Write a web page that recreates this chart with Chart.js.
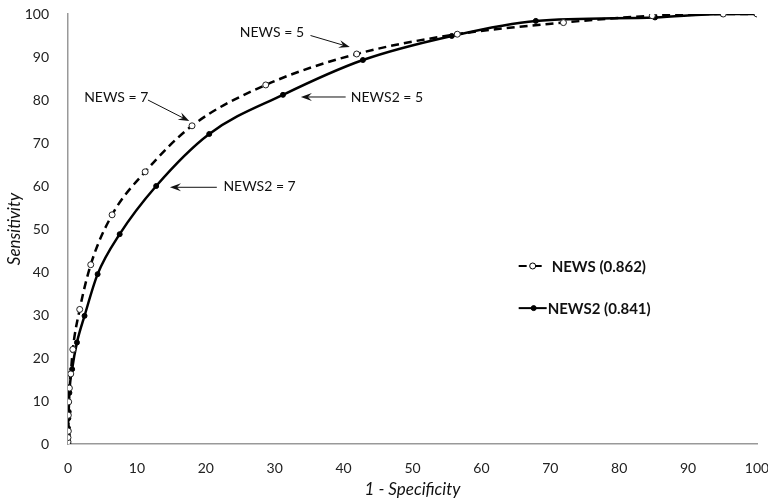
<!DOCTYPE html>
<html>
<head>
<meta charset="utf-8">
<script src="https://cdn.jsdelivr.net/npm/chart.js@4"></script>
<style>
  html, body { margin: 0; padding: 0; background: #fff; }
  #wrap { width: 768px; height: 502px; }
</style>
</head>
<body>
<div id="wrap"><canvas id="roc"></canvas></div>
<script>
// 1 - specificity (%) and sensitivity (%)
const newsFpr = [0, 0, 0, 0.05, 0.05, 0.1, 0.2, 0.4, 0.7, 1.7, 3.3, 6.4, 11.2, 18, 28.7, 41.9, 56.5, 71.9, 84.8, 95.1, 100];
const newsSens = [0, 0.5, 1.5, 3, 6.7, 9.8, 13, 16.3, 22, 31.3, 41.7, 53.3, 63.3, 74, 83.5, 90.7, 95.3, 98, 99.6, 100, 100];
const news2Fpr = [0, 0, 0, 0, 0.05, 0.1, 0.2, 0.6, 1.3, 2.4, 4.3, 7.5, 12.8, 20.5, 31.2, 42.8, 55.7, 67.9, 85.2, 95, 100];
const news2Sens = [0, 0.8, 2, 3.7, 6, 7.5, 11.9, 17.4, 23.6, 29.8, 39.5, 48.8, 60, 72.1, 81.2, 89.3, 94.9, 98.4, 99.2, 100, 100];

const seriesNames = ["NEWS (0.862)", "NEWS2 (0.841)"];
const axisTicks = [0, 10, 20, 30, 40, 50, 60, 70, 80, 90, 100];

// callouts: label, label anchor, arrow start, arrow tip (data units)
const callouts = [
  { text: "NEWS = 5",  at: [29.6, 95.8], from: [35.2, 95.0], to: [40.9, 92.3] },
  { text: "NEWS = 7",  at: [7.0, 80.5],  from: [11.6, 80.0], to: [17.6, 75.1] },
  { text: "NEWS2 = 5", at: [46.3, 80.7], from: [40.3, 80.7], to: [33.8, 80.7] },
  { text: "NEWS2 = 7", at: [27.8, 60.0], from: [21.6, 59.7], to: [14.8, 59.7] }
];

const toPoints = (xs, ys) => xs.map((x, i) => ({ x: x, y: ys[i] }));
const FONT = "Lato, 'Open Sans', sans-serif";

function arrow(ctx, x1, y1, x2, y2) {
  const a = Math.atan2(y2 - y1, x2 - x1);
  const len = 11, half = 4;
  ctx.beginPath();
  ctx.moveTo(x1, y1);
  ctx.lineTo(x2 - Math.cos(a) * 6, y2 - Math.sin(a) * 6);
  ctx.stroke();
  ctx.beginPath();
  ctx.moveTo(x2, y2);
  ctx.lineTo(x2 - Math.cos(a) * len - Math.sin(a) * half, y2 - Math.sin(a) * len + Math.cos(a) * half);
  ctx.lineTo(x2 - Math.cos(a) * 7, y2 - Math.sin(a) * 7);
  ctx.lineTo(x2 - Math.cos(a) * len + Math.sin(a) * half, y2 - Math.sin(a) * len - Math.cos(a) * half);
  ctx.closePath();
  ctx.fill();
}

const extras = {
  id: "extras",
  afterDraw(chart) {
    const { ctx, scales: { x, y } } = chart;
    ctx.save();
    ctx.fillStyle = "#111";
    ctx.strokeStyle = "#111";
    ctx.lineWidth = 1;
    ctx.font = "14px " + FONT;
    ctx.textAlign = "center";
    ctx.textBaseline = "middle";
    callouts.forEach(c => {
      ctx.fillText(c.text, x.getPixelForValue(c.at[0]), y.getPixelForValue(c.at[1]));
      arrow(ctx, x.getPixelForValue(c.from[0]), y.getPixelForValue(c.from[1]),
        x.getPixelForValue(c.to[0]), y.getPixelForValue(c.to[1]));
    });

    // legend inside the plot
    const lx = x.getPixelForValue(70.2);
    const rows = [y.getPixelForValue(41.4), y.getPixelForValue(31.6)];
    ctx.font = "bold 15px " + FONT;
    ctx.textAlign = "left";
    chart.data.datasets.forEach((ds, i) => {
      const yy = rows[i];
      const x0 = lx - 33;
      ctx.lineWidth = 2;
      ctx.strokeStyle = "#000";
      ctx.beginPath();
      if (i === 0) {
        ctx.moveTo(x0, yy); ctx.lineTo(x0 + 8, yy);
        ctx.moveTo(x0 + 17, yy); ctx.lineTo(x0 + 23, yy);
      } else {
        ctx.moveTo(x0, yy); ctx.lineTo(x0 + 28, yy);
      }
      ctx.stroke();
      ctx.beginPath();
      ctx.arc(x0 + (i === 0 ? 14 : 15), yy, i === 0 ? 3 : 2.5, 0, Math.PI * 2);
      ctx.fillStyle = ds.pointBackgroundColor;
      ctx.fill();
      ctx.lineWidth = 1;
      ctx.stroke();
      ctx.fillStyle = "#111";
      ctx.fillText(seriesNames[i], i === 0 ? x0 + 33 : x0 + 29, yy + 1);
    });
    ctx.restore();
  }
};

new Chart(document.getElementById("roc"), {
  type: "scatter",
  data: {
    datasets: [
      {
        label: seriesNames[0],
        data: toPoints(newsFpr, newsSens),
        showLine: true,
        borderColor: "#000",
        borderWidth: 2.5,
        borderDash: [8, 5],
        cubicInterpolationMode: "monotone",
        pointRadius: 3,
        pointBorderWidth: 1,
        pointBorderColor: "#222",
        pointBackgroundColor: "#fff"
      },
      {
        label: seriesNames[1],
        data: toPoints(news2Fpr, news2Sens),
        showLine: true,
        borderColor: "#000",
        borderWidth: 2.5,
        cubicInterpolationMode: "monotone",
        pointRadius: 2.5,
        pointBorderWidth: 1,
        pointBorderColor: "#000",
        pointBackgroundColor: "#000"
      }
    ]
  },
  options: {
    responsive: true,
    maintainAspectRatio: false,
    animation: false,
    layout: { padding: { top: 14, right: 11, left: 0, bottom: 0 } },
    plugins: { legend: { display: false }, tooltip: { enabled: false } },
    scales: {
      x: {
        type: "linear",
        min: 0,
        max: 100,
        afterBuildTicks: s => { s.ticks = axisTicks.map(v => ({ value: v })); },
        afterFit: s => { s.height = 58; s.paddingLeft = 0; s.paddingRight = 0; },
        grid: { display: false },
        border: { display: true, color: "#999", width: 1.5 },
        ticks: { padding: 8, color: "#222", font: { family: FONT, size: 14 }, maxRotation: 0 },
        title: {
          display: true,
          text: "1 - Specificity",
          color: "#111",
          padding: { top: 0, bottom: 2 },
          font: { family: FONT, size: 17, style: "italic" }
        }
      },
      y: {
        min: 0,
        max: 100,
        afterBuildTicks: s => { s.ticks = axisTicks.map(v => ({ value: v })); },
        afterFit: s => { s.width = 68; s.paddingTop = 0; s.paddingBottom = 0; },
        grid: { display: false },
        border: { display: true, color: "#999", width: 1.5 },
        ticks: { padding: 11, color: "#222", font: { family: FONT, size: 14 } },
        title: {
          display: true,
          text: "Sensitivity",
          color: "#111",
          padding: { top: 4, bottom: 0 },
          font: { family: FONT, size: 17, style: "italic" }
        }
      }
    }
  },
  plugins: [extras]
});
</script>
</body>
</html>
